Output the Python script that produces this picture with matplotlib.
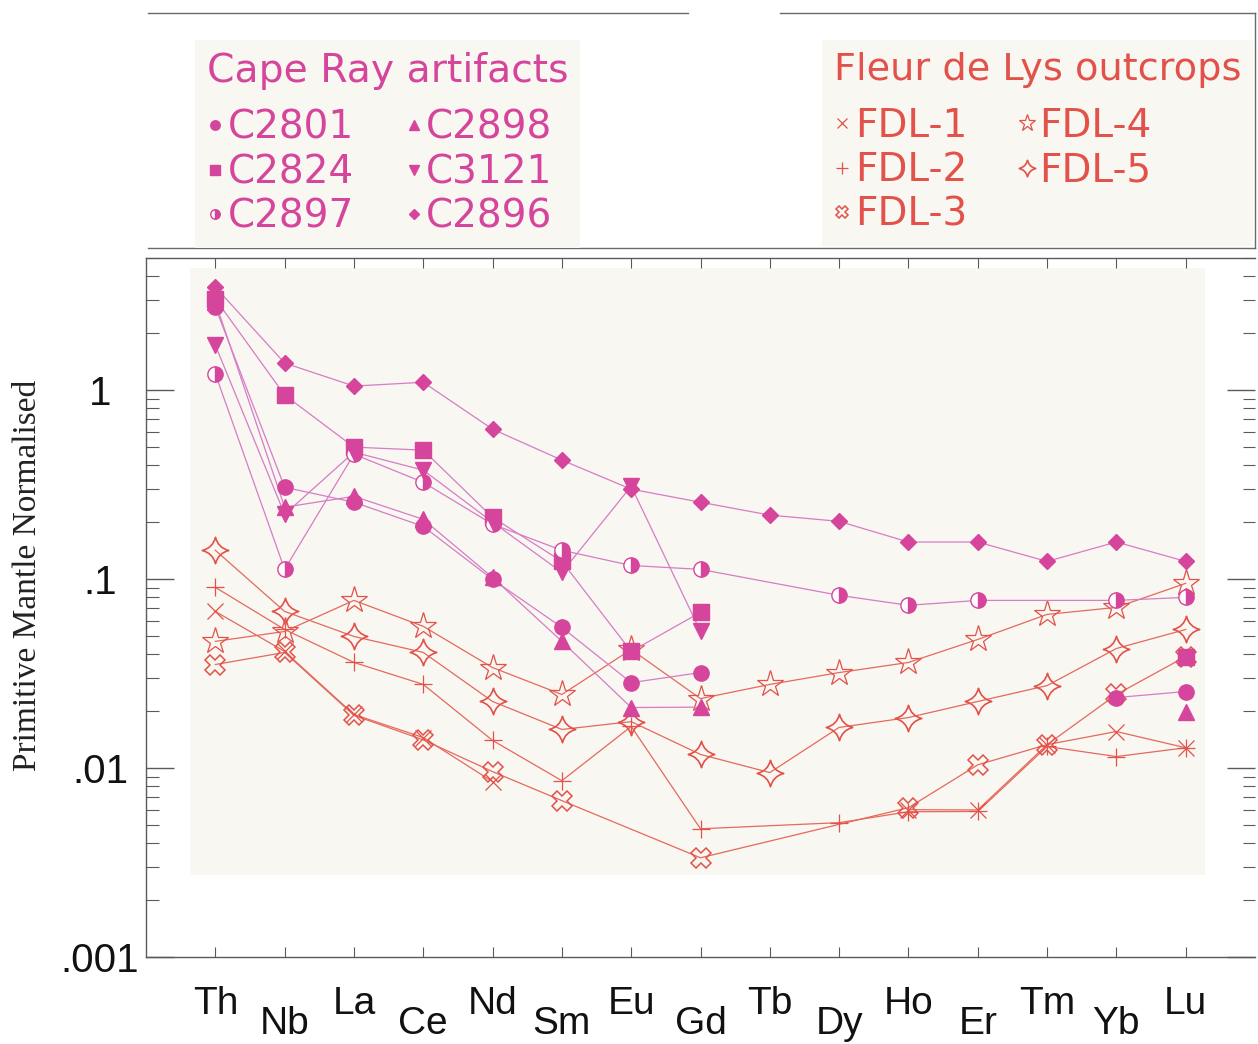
import numpy as np
import matplotlib
matplotlib.use('Agg')
import matplotlib.pyplot as plt
from matplotlib.path import Path
from matplotlib.lines import Line2D
from matplotlib.patches import Rectangle
from matplotlib.transforms import ScaledTranslation

nan = np.nan
elements = ['Th', 'Nb', 'La', 'Ce', 'Nd', 'Sm', 'Eu', 'Gd', 'Tb', 'Dy', 'Ho', 'Er', 'Tm', 'Yb', 'Lu']
ytick_vals = [0.001, 0.01, 0.1, 1]
ytick_labels = ['.001', '.01', '.1', '1']

# Cape Ray artifacts
c2801 = [2.75, 0.306, 0.255, 0.190, 0.0996, 0.0555, 0.0283, 0.0320, nan, nan, nan, nan, nan, 0.0236, 0.0254]
c2824 = [3.04, 0.941, 0.499, 0.481, 0.212, 0.124, 0.0414, 0.0667, nan, nan, nan, nan, nan, nan, 0.0389]
c2897 = [1.22, 0.1125, 0.458, 0.325, 0.195, 0.142, 0.118, 0.1125, nan, 0.082, 0.0726, 0.0771, nan, 0.0771, 0.080]
c2898 = [2.93, 0.240, 0.274, 0.207, 0.102, 0.0468, 0.0209, 0.0210, nan, nan, nan, nan, nan, nan, 0.0199]
c3121 = [1.73, 0.220, 0.469, 0.377, 0.200, 0.1085, 0.310, 0.0528, nan, nan, nan, nan, nan, nan, nan]
c2896 = [3.51, 1.39, 1.05, 1.10, 0.621, 0.426, 0.299, 0.255, 0.218, 0.202, 0.157, 0.157, 0.124, 0.157, 0.124]

# Fleur de Lys outcrops
fdl1 = [0.0674, 0.0414, 0.0192, 0.0145, 0.00847, nan, nan, nan, nan, nan, 0.00602, 0.0060, 0.0133, 0.0156, 0.0128]
fdl2 = [0.0904, 0.0541, 0.0362, 0.0277, 0.0140, 0.00857, 0.0166, 0.00477, nan, 0.00514, 0.00587, 0.00589, 0.0130, 0.0115, 0.0128]
fdl3 = [0.0353, 0.0409, 0.0190, 0.0141, 0.00957, 0.00672, nan, 0.00335, nan, nan, 0.00617, 0.0104, 0.0133, 0.0245, 0.0389]
fdl4 = [0.0468, 0.0528, 0.0771, 0.0562, 0.0340, 0.0245, 0.0424, 0.0233, 0.0277, 0.0320, 0.0362, 0.0479, 0.0650, 0.0708, 0.0949]
fdl5 = [0.142, 0.0674, 0.0497, 0.0409, 0.0225, 0.0160, 0.0176, 0.0118, 0.00946, 0.0164, 0.0185, 0.0225, 0.0273, 0.0429, 0.0541]

cape_names = ['C2801', 'C2824', 'C2897', 'C2898', 'C3121', 'C2896']
cape_data = [c2801, c2824, c2897, c2898, c3121, c2896]
fdl_names = ['FDL-1', 'FDL-2', 'FDL-3', 'FDL-4', 'FDL-5']
fdl_data = [fdl1, fdl2, fdl3, fdl4, fdl5]

CAPE = '#d6459c'
CAPE_LINE = '#d77cc6'
FDL = '#e2514a'
FDL_LINE = '#e5695c'
BG = '#f8f7f1'

# concave four-pointed star
c = 0.2
star4 = Path([(0, 1), (c, c), (1, 0), (c, -c), (0, -1), (-c, -c), (-1, 0), (-c, c), (0, 1), (0, 1)],
             [Path.MOVETO, Path.CURVE3, Path.CURVE3, Path.CURVE3, Path.CURVE3,
              Path.CURVE3, Path.CURVE3, Path.CURVE3, Path.CURVE3, Path.CLOSEPOLY])

cape_style = [
    dict(marker='o', ms=11, mfc=CAPE, mec=CAPE),
    dict(marker='s', ms=11, mfc=CAPE, mec=CAPE),
    dict(marker='o', ms=11, mfc=CAPE, mec=CAPE, fillstyle='right', markerfacecoloralt='white', mew=1),
    dict(marker='^', ms=11, mfc=CAPE, mec=CAPE),
    dict(marker='v', ms=11, mfc=CAPE, mec=CAPE),
    dict(marker='D', ms=8.5, mfc=CAPE, mec=CAPE),
]
fdl_style = [
    dict(marker='x', ms=11, mec=FDL, mew=0.9),
    dict(marker='+', ms=13, mec=FDL, mew=0.9),
    dict(marker='X', ms=15, mfc='none', mec=FDL, mew=1.1),
    dict(marker='*', ms=20, mfc='none', mec=FDL, mew=0.9),
    dict(marker=star4, ms=19, mfc='none', mec=FDL, mew=1.2),
]

W, H = 1258, 1044
fig = plt.figure(figsize=(W / 100, H / 100), dpi=100)
fig.patch.set_facecolor('white')


def fx(x):
    return x / W


def fy(y):
    return 1 - y / H


ax = fig.add_axes([fx(146), fy(957), fx(1255) - fx(146), fy(258) - fy(957)])
ax.patch.set_alpha(0)
ax.add_patch(Rectangle((fx(190), fy(875)), fx(1205) - fx(190), fy(268) - fy(875),
                       transform=fig.transFigure, facecolor=BG, edgecolor='none', zorder=0, clip_on=False))

x = np.arange(1, len(elements) + 1)


def groups(vals, max_gap=2):
    idx = [i for i, v in enumerate(vals) if not np.isnan(v)]
    out, cur = [], [idx[0]]
    for a in idx[1:]:
        if a - cur[-1] - 1 <= max_gap:
            cur.append(a)
        else:
            out.append(cur)
            cur = [a]
    out.append(cur)
    return out


def draw(vals, style, lcolor, z):
    v = np.array(vals, dtype=float)
    for g in groups(vals):
        ax.plot(x[g], v[g], '-', color=lcolor, lw=0.9, zorder=z)
    ok = ~np.isnan(v)
    ax.plot(x[ok], v[ok], linestyle='none', zorder=z + 1, **style)


for vals, st in zip(fdl_data, fdl_style):
    draw(vals, st, FDL_LINE, 2)
for vals, st in zip(cape_data, cape_style):
    draw(vals, st, CAPE_LINE, 4)

ax.set_yscale('log')
ax.set_ylim(1e-3, 5)
ax.set_xlim(0, 16)
ax.set_yticks(ytick_vals)
ax.set_yticklabels(ytick_labels)
ax.set_xticks(x)
ax.set_xticklabels(elements)

SP = '#5a5a5a'
for s in ['left', 'bottom', 'top']:
    ax.spines[s].set_color(SP)
    ax.spines[s].set_linewidth(1)
ax.spines['right'].set_visible(False)

tick_font = ['Liberation Sans', 'DejaVu Sans']
ax.tick_params(axis='y', which='major', direction='in', length=20, width=1, color=SP,
               left=True, right=True, pad=33, labelsize=29, labelcolor='#111111')
ax.tick_params(axis='y', which='minor', direction='in', length=9, width=0.8, color=SP,
               left=True, right=True)
ax.tick_params(axis='x', which='major', direction='in', length=7, width=0.8, color=SP,
               top=True, bottom=True, pad=21, labelsize=28, labelcolor='#111111')
ax.tick_params(axis='x', which='minor', bottom=False, top=False)
for lab in ax.get_yticklabels():
    lab.set_family(tick_font)
    lab.set_horizontalalignment('center')
for i, lab in enumerate(ax.get_xticklabels()):
    lab.set_family(tick_font)
    if i % 2 == 1:
        lab.set_transform(lab.get_transform() + ScaledTranslation(0, -20 / 100, fig.dpi_scale_trans))

fig.text(fx(28), fy(575), 'Primitive Mantle Normalised', rotation=90, ha='center', va='center',
         family=['Liberation Serif', 'DejaVu Serif'], fontsize=24, color='#222222')

# legend frame lines
LC = '#6a6a6a'
for (x0, x1, y0, y1) in [(148, 688, 13, 13), (780, 1255, 13, 13), (148, 1255, 248, 248), (1255, 1255, 13, 248)]:
    fig.add_artist(Line2D([fx(x0), fx(x1)], [fy(y0), fy(y1)], transform=fig.transFigure, color=LC, lw=1))


def proxy(st):
    d = dict(st)
    d['ms'] = d['ms'] * 0.62
    return Line2D([], [], linestyle='none', **d)


leg_kw = dict(loc='upper left', bbox_transform=fig.transFigure, ncol=2, fontsize=28,
              frameon=True, facecolor=BG, edgecolor='none', framealpha=1,
              fancybox=False, handlelength=0.45, handletextpad=0.1, columnspacing=1.3,
              labelspacing=0.17, borderpad=0.3, borderaxespad=0, alignment='left')

leg1 = fig.legend([proxy(s) for s in cape_style], cape_names, bbox_to_anchor=(fx(195), fy(40)),
                  title='Cape Ray artifacts', title_fontsize=28.3, labelcolor=CAPE, **leg_kw)
leg1.get_title().set_color(CAPE)
leg2 = fig.legend([proxy(s) for s in fdl_style], fdl_names, bbox_to_anchor=(fx(822), fy(40)),
                  title='Fleur de Lys outcrops', title_fontsize=27.5, labelcolor=FDL, **leg_kw)
leg2.get_title().set_color(FDL)
for leg in (leg1, leg2):
    leg._legend_box.sep = 0.17 * 28 + 9

fig.savefig('out.png', dpi=100, facecolor='white')
